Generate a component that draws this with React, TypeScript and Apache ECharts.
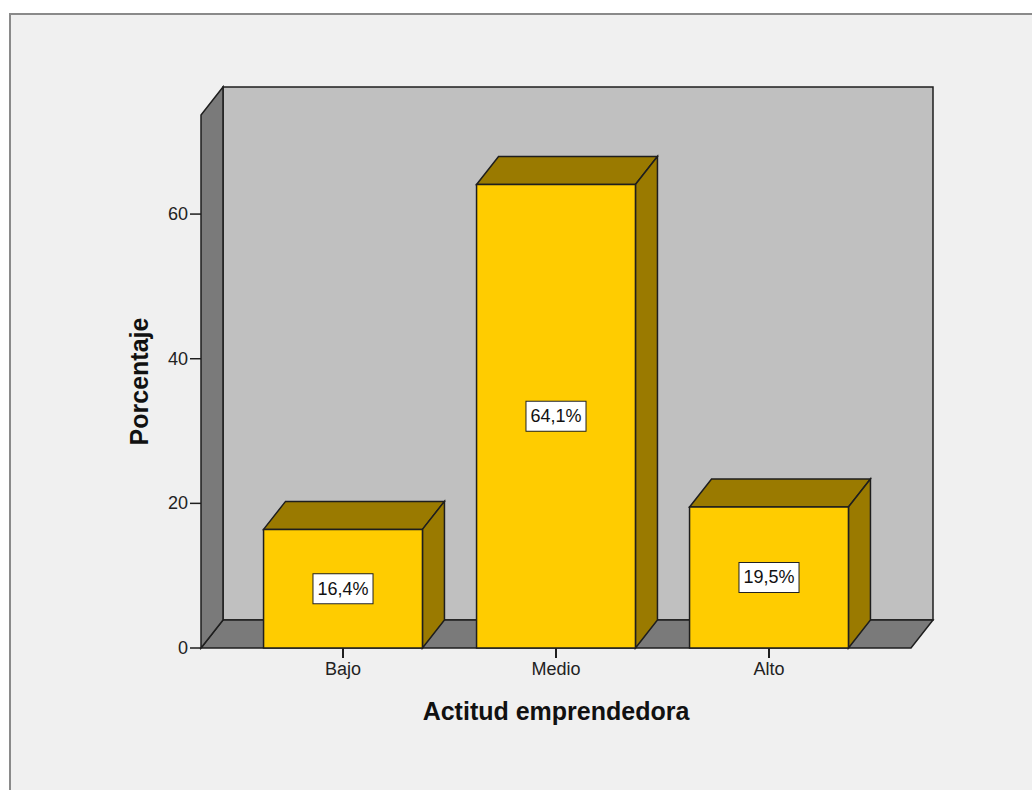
import React, { useEffect, useRef } from "react";
import * as echarts from "echarts";

const categories = ["Bajo", "Medio", "Alto"];
const percentages = [16.4, 64.1, 19.5];
const yTickValues = [0, 20, 40, 60];
const Y_MAX = 73.7;
const X_MIN = -2 / 3;
const X_MAX = 8 / 3;

const FONT = "'Liberation Sans', Arial, sans-serif";
const FRONT = "#FFCC00";
const DARK = "#9A7A00";
const WALL = "#C0C0C0";
const SIDE = "#7A7A7A";
const EDGE = "#1E1E1E";
const DX = 22;
const DY = -28;
const BAR_HALF = 0.373;
const Y_TICK_LEN = 11;
const X_TICK_LEN = 10;

export default function App() {
  const ref = useRef<HTMLDivElement>(null);
  useEffect(() => {
    if (!ref.current) return;
    const chart = echarts.init(ref.current, null, { renderer: "svg" });
    const barData = categories.map((_, i) => [i, percentages[i]]);
    chart.setOption({
      animation: false,
      backgroundColor: "#ffffff",
      graphic: [
        {
          type: "rect",
          z: -10,
          shape: { x: 10, y: 14, width: 1040, height: 800 },
          style: { fill: "#F0F0F0", stroke: "#8A8A8A", lineWidth: 2 },
        },
      ],
      grid: { left: 201, right: 121, top: 115, bottom: 142 },
      xAxis: {
        type: "value",
        min: X_MIN,
        max: X_MAX,
        splitLine: { show: false },
        axisLine: { show: false },
        axisTick: { show: false },
        axisLabel: {
          customValues: [0, 1, 2],
          formatter: (v: number) => categories[Math.round(v)] ?? "",
          margin: 12,
          fontSize: 18,
          color: "#222",
          fontFamily: FONT,
        },
        name: "Actitud emprendedora",
        nameLocation: "middle",
        nameGap: 50,
        nameTextStyle: {
          fontSize: 25,
          fontWeight: "bold",
          color: "#111",
          fontFamily: FONT,
        },
      },
      yAxis: {
        type: "value",
        min: 0,
        max: Y_MAX,
        interval: 20,
        splitLine: { show: false },
        axisLine: { show: false },
        axisTick: { show: false },
        axisLabel: {
          customValues: yTickValues,
          formatter: (v: number) => (yTickValues.includes(v) ? String(v) : ""),
          margin: 13,
          fontSize: 18,
          color: "#222",
          fontFamily: FONT,
        },
        name: "Porcentaje",
        nameLocation: "middle",
        nameGap: 50,
        nameTextStyle: {
          fontSize: 25,
          fontWeight: "bold",
          color: "#111",
          fontFamily: FONT,
        },
      },
      series: [
        {
          type: "custom",
          clip: false,
          silent: true,
          z: 1,
          data: [[0, 0]],
          renderItem: (_p: any, api: any) => {
            const [x0, yb] = api.coord([X_MIN, 0]);
            const [x1, yt] = api.coord([X_MAX, Y_MAX]);
            const st = (fill: string) => ({ fill, stroke: EDGE, lineWidth: 1.5 });
            const lineSt = { stroke: EDGE, lineWidth: 1.5 };
            const yTicks = yTickValues.map((v) => {
              const y = api.coord([X_MIN, v])[1];
              return {
                type: "line",
                shape: { x1: x0 - Y_TICK_LEN, y1: y, x2: x0, y2: y },
                style: lineSt,
              };
            });
            return {
              type: "group",
              children: [
                {
                  type: "rect",
                  shape: { x: x0 + DX, y: yt + DY, width: x1 - x0, height: yb - yt },
                  style: st(WALL),
                },
                {
                  type: "polygon",
                  shape: {
                    points: [
                      [x0, yb],
                      [x0 + DX, yb + DY],
                      [x1 + DX, yb + DY],
                      [x1, yb],
                    ],
                  },
                  style: st(SIDE),
                },
                {
                  type: "polygon",
                  shape: {
                    points: [
                      [x0, yb],
                      [x0, yt],
                      [x0 + DX, yt + DY],
                      [x0 + DX, yb + DY],
                    ],
                  },
                  style: st(SIDE),
                },
                ...yTicks,
              ],
            };
          },
        },
        {
          type: "custom",
          clip: false,
          z: 3,
          data: barData,
          renderItem: (_p: any, api: any) => {
            const idx = api.value(0);
            const val = api.value(1);
            const [xl, yt] = api.coord([idx - BAR_HALF, val]);
            const [xr, yb] = api.coord([idx + BAR_HALF, 0]);
            const [xc, ym] = api.coord([idx, val / 2]);
            const st = (fill: string) => ({ fill, stroke: EDGE, lineWidth: 1.5 });
            return {
              type: "group",
              children: [
                {
                  type: "polygon",
                  shape: {
                    points: [
                      [xl, yt],
                      [xl + DX, yt + DY],
                      [xr + DX, yt + DY],
                      [xr, yt],
                    ],
                  },
                  style: st(DARK),
                },
                {
                  type: "polygon",
                  shape: {
                    points: [
                      [xr, yt],
                      [xr + DX, yt + DY],
                      [xr + DX, yb + DY],
                      [xr, yb],
                    ],
                  },
                  style: st(DARK),
                },
                {
                  type: "rect",
                  shape: { x: xl, y: yt, width: xr - xl, height: yb - yt },
                  style: st(FRONT),
                },
                {
                  type: "polyline",
                  shape: {
                    points: [
                      [xc, yb],
                      [xc, yb + X_TICK_LEN],
                    ],
                  },
                  style: { stroke: EDGE, lineWidth: 2, fill: null },
                },
                {
                  type: "text",
                  x: xc,
                  y: ym,
                  style: {
                    text: val.toFixed(1).replace(".", ",") + "%",
                    align: "center",
                    verticalAlign: "middle",
                    fill: "#111",
                    fontSize: 18,
                    fontFamily: FONT,
                    backgroundColor: "#FFFFFF",
                    borderColor: "#222",
                    borderWidth: 1,
                    padding: [6, 4, 5, 4],
                  },
                },
              ],
            };
          },
        },
      ],
    });
    return () => chart.dispose();
  }, []);
  return (
    <div
      ref={ref}
      style={{ position: "fixed", left: 0, top: 0, width: 1032, height: 790 }}
    />
  );
}
